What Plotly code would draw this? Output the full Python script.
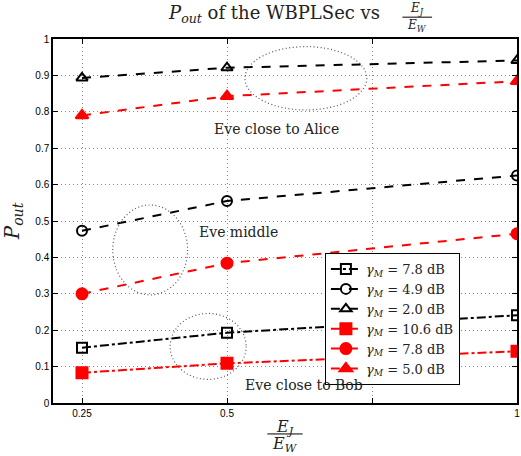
import plotly.graph_objects as go

x_vals = [0.25, 0.5, 1.0]

bk_sq = [0.152, 0.193, 0.241]   # gamma_M = 7.8 dB (black, square)
bk_ci = [0.473, 0.555, 0.625]   # gamma_M = 4.9 dB (black, circle)
bk_tr = [0.893, 0.921, 0.941]   # gamma_M = 2.0 dB (black, triangle)
rd_sq = [0.083, 0.109, 0.142]   # gamma_M = 10.6 dB (red, square)
rd_ci = [0.300, 0.384, 0.465]   # gamma_M = 7.8 dB (red, circle)
rd_tr = [0.790, 0.843, 0.884]   # gamma_M = 5.0 dB (red, triangle)

names = ["7.8", "4.9", "2.0", "10.6", "7.8", "5.0"]
x_tickvals = [0.25, 0.5, 0.75, 1.0]
x_ticktext = ["0.25", "0.5", "", "1"]
y_tickvals = [0, 0.1, 0.2, 0.3, 0.4, 0.5, 0.6, 0.7, 0.8, 0.9, 1]
y_ticktext = ["0", "0.1", "0.2", "0.3", "0.4", "0.5", "0.6", "0.7", "0.8", "0.9", "1"]

SERIF = "DejaVu Serif, Liberation Serif, serif"
SANS = "Liberation Sans, Arial, sans-serif"
TXT = "#222222"

series = [
    (bk_sq, "black", "square-open", "dashdot", names[0]),
    (bk_ci, "black", "circle-open", "dash", names[1]),
    (bk_tr, "black", "triangle-up-open", "dash", names[2]),
    (rd_sq, "red", "square", "dashdot", names[3]),
    (rd_ci, "red", "circle", "dash", names[4]),
    (rd_tr, "red", "triangle-up", "dash", names[5]),
]

fig = go.Figure()
for ys, col, sym, dash, nm in series:
    fig.add_trace(go.Scatter(
        x=x_vals, y=ys, mode="lines+markers",
        name="<i>γ<sub>M</sub></i> = " + nm + " dB",
        line=dict(color=col, width=2, dash=dash),
        marker=dict(symbol=sym, size=10 if "open" in sym else 11, color=col,
                    line=dict(color=col, width=2)),
    ))

# dotted ellipses
ellipses = [
    (0.531, 0.805, 0.741, 0.979),
    (0.303, 0.297, 0.432, 0.544),
    (0.402, 0.065, 0.533, 0.246),
]
for x0, y0, x1, y1 in ellipses:
    fig.add_shape(type="circle", xref="x", yref="y", x0=x0, y0=y0, x1=x1, y1=y1,
                  line=dict(color="#555555", width=1.2, dash="1px,2.5px"))

ann = [
    (0.586, 0.753, "Eve close to Alice"),
    (0.52, 0.471, "Eve middle"),
    (0.632, 0.049, "Eve close to Bob"),
]
for ax, ay, t in ann:
    fig.add_annotation(x=ax, y=ay, xref="x", yref="y", text=t, showarrow=False,
                       font=dict(family=SERIF, size=14, color=TXT))

# title as text + stacked fraction
fig.add_annotation(x=0.476, y=1.069, xref="paper", yref="paper",
                   text="<i>P<sub>out</sub></i> of the WBPLSec vs", showarrow=False,
                   xanchor="center", yanchor="middle",
                   font=dict(family=SERIF, size=18, color=TXT))
fig.add_annotation(x=0.785, y=1.083, xref="paper", yref="paper", text="<i>E<sub>J</sub></i>",
                   showarrow=False, xanchor="center", yanchor="middle",
                   font=dict(family=SERIF, size=12, color=TXT))
fig.add_annotation(x=0.785, y=1.037, xref="paper", yref="paper", text="<i>E<sub>W</sub></i>",
                   showarrow=False, xanchor="center", yanchor="middle",
                   font=dict(family=SERIF, size=12, color=TXT))
fig.add_shape(type="line", xref="paper", yref="paper", x0=0.753, x1=0.817, y0=1.060, y1=1.060,
              line=dict(color="black", width=1))

# x-axis title as a fraction
fig.add_annotation(x=0.5, y=-0.066, xref="paper", yref="paper", text="<i>E<sub>J</sub></i>",
                   showarrow=False, yanchor="middle", font=dict(family=SERIF, size=16, color=TXT))
fig.add_annotation(x=0.5, y=-0.113, xref="paper", yref="paper", text="<i>E<sub>W</sub></i>",
                   showarrow=False, yanchor="middle", font=dict(family=SERIF, size=16, color=TXT))
fig.add_shape(type="line", xref="paper", yref="paper", x0=0.462, x1=0.538, y0=-0.085, y1=-0.085,
              line=dict(color="black", width=1))

fig.update_layout(
    width=521, height=456,
    margin=dict(l=53, r=4, t=39, b=53),
    paper_bgcolor="white", plot_bgcolor="white",
    showlegend=True,
    legend=dict(x=0.586, y=0.412, xanchor="left", yanchor="top",
                bgcolor="white", bordercolor="black", borderwidth=1,
                font=dict(family=SERIF, size=13, color=TXT),
                tracegroupgap=0, itemwidth=30),
    xaxis=dict(range=[0.2, 1.0], tickvals=x_tickvals, ticktext=x_ticktext,
               showgrid=True, gridcolor="#888888", griddash="1px,3px", gridwidth=1,
               showline=True, linecolor="black", linewidth=1.5, mirror="ticks",
               ticks="inside", ticklen=5, tickcolor="black", automargin=False,
               tickfont=dict(family=SANS, size=10, color="black"), zeroline=False),
    yaxis=dict(range=[0, 1.0], tickvals=y_tickvals, ticktext=y_ticktext,
               showgrid=True, gridcolor="#888888", griddash="1px,3px", gridwidth=1,
               showline=True, linecolor="black", linewidth=1.5, mirror="ticks",
               ticks="inside", ticklen=5, tickcolor="black", automargin=False,
               tickfont=dict(family=SANS, size=10, color="black"), zeroline=False,
               title=dict(text="<i>P<sub>out</sub></i>", standoff=12,
                          font=dict(family=SERIF, size=20, color=TXT))),
)

fig.write_html("out.html", config={"displayModeBar": False},
               post_script="document.body.style.margin='0';")
